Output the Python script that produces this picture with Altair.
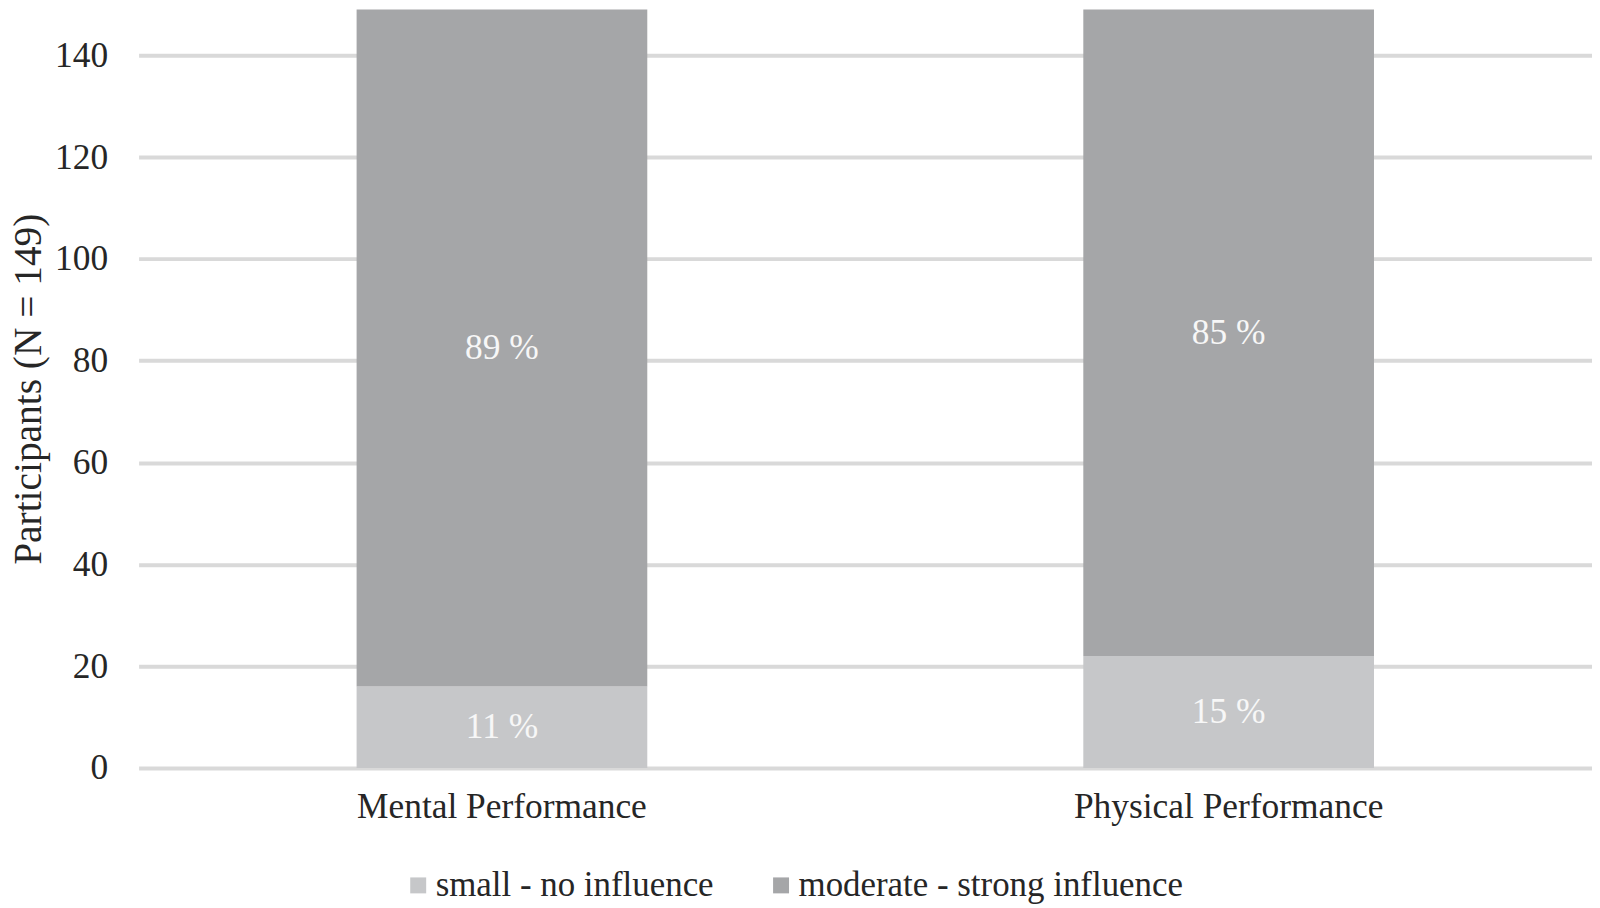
import altair as alt
import pandas as pd

categories = ["Mental Performance", "Physical Performance"]
groups = ["small - no influence", "moderate - strong influence"]
small_counts = [16, 22]
moderate_counts = [133, 127]
small_labels = ["11 %", "15 %"]
moderate_labels = ["89 %", "85 %"]
y_ticks = [0, 20, 40, 60, 80, 100, 120, 140]

rows = []
for i, c in enumerate(categories):
    rows.append({"cat": c, "group": groups[0], "order": 0, "value": small_counts[i], "label": small_labels[i]})
    rows.append({"cat": c, "group": groups[1], "order": 1, "value": moderate_counts[i], "label": moderate_labels[i]})
df = pd.DataFrame(rows)

FONT = "Liberation Serif"
FS = 35.5

x_enc = alt.X("cat:N", sort=categories, title=None,
              scale=alt.Scale(paddingInner=0.6, paddingOuter=0.3),
              axis=alt.Axis(labelAngle=0, labelFontSize=FS, labelFont=FONT, labelColor="#262626",
                            labelLimit=0,
                            domain=False, ticks=False, labelPadding=22, grid=False))

bars = alt.Chart(df).mark_bar().encode(
    x=x_enc,
    y=alt.Y("sum(value):Q", stack="zero",
            scale=alt.Scale(domain=[0, 149], nice=False, zero=True),
            axis=alt.Axis(values=y_ticks, title="Participants (N = 149)", titleFontSize=39.5,
                          titleFont=FONT, titleFontWeight="normal", titleColor="#262626",
                          labelFontSize=FS, labelFont=FONT, labelColor="#262626",
                          domain=False, ticks=False, labelPadding=31, titlePadding=6,
                          grid=True, gridColor="#d9d9d9", gridWidth=4)),
    color=alt.Color("group:N", sort=groups,
                    scale=alt.Scale(domain=groups, range=["#c6c7c9", "#a5a6a8"]),
                    legend=alt.Legend(title=None, orient="none", direction="horizontal",
                                      legendX=263, legendY=861, labelLimit=0,
                                      labelFontSize=35, labelFont=FONT, labelColor="#262626",
                                      symbolType="square", symbolSize=256, symbolStrokeWidth=0,
                                      labelOffset=0, columnPadding=50)),
    order=alt.Order("order:Q"),
)

text = alt.Chart(df).mark_text(font=FONT, fontSize=FS, color="#f7f7f7", baseline="middle").encode(
    x=alt.X("cat:N", sort=categories),
    y=alt.Y("sum(value):Q", stack="zero", bandPosition=0.5),
    detail="group:N",
    order=alt.Order("order:Q"),
    text="label:N",
)

chart = alt.layer(bars, text).properties(
    width=1458, height=761,
    padding={"left": 0, "top": 0, "right": 0, "bottom": 0},
).configure_view(stroke=None).configure_axis(gridCap="butt")

chart.save("out.html", embed_options={"renderer": "svg", "actions": False})
